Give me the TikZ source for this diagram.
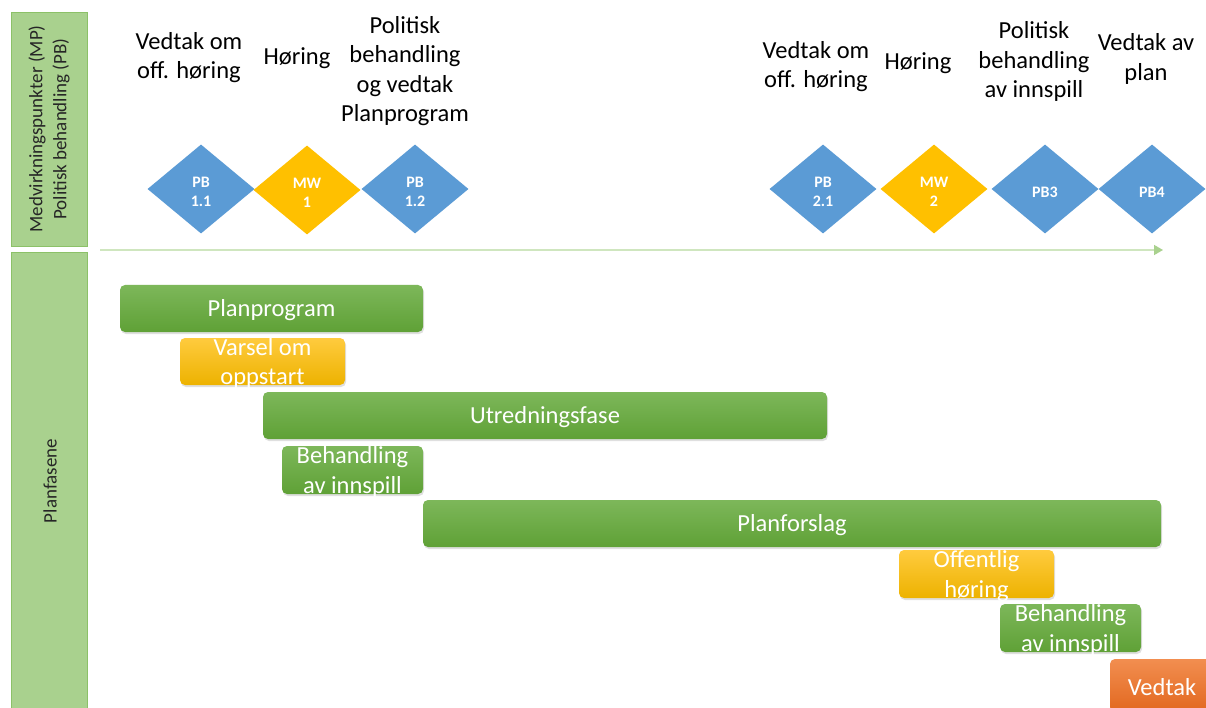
\documentclass[tikz,border=0pt]{standalone}
\usepackage{fontspec}
\setmainfont{Carlito}
\usetikzlibrary{shapes.geometric,arrows.meta,shadows}
\definecolor{hdrfill}{HTML}{A9D18E}
\definecolor{hdrdraw}{HTML}{8CC168}
\definecolor{axcol}{HTML}{CFE6BF}
\definecolor{axtip}{HTML}{A9D18E}
\definecolor{pbblue}{HTML}{5B9BD5}
\definecolor{mwgold}{HTML}{FFC000}
\definecolor{gtop}{HTML}{7DB75A}
\definecolor{gbot}{HTML}{5FA136}
\definecolor{ytop}{HTML}{FFCB3E}
\definecolor{ybot}{HTML}{EDB200}
\definecolor{otop}{HTML}{F28E50}
\definecolor{obot}{HTML}{E2681F}
\tikzset{
  hdr/.style={draw=hdrdraw, fill=hdrfill, line width=1pt},
  hdrtext/.style={rotate=90, align=center, font=\fontsize{19}{24}\selectfont, text=black!85},
  toplabel/.style={align=center, font=\fontsize{24.5}{29.5}\selectfont, text=black, inner sep=0pt},
  dia/.style={diamond, minimum width=107pt, minimum height=89pt, inner sep=0pt, draw=none},
  diatext/.style={text=white, align=center, inner sep=0pt, yshift=-3pt, font=\bfseries\fontsize{16}{19.5}\selectfont},
  pbdia/.style={dia, fill=pbblue},
  mwdia/.style={dia, fill=mwgold},
  barbox/.style={rectangle, rounded corners=5pt, inner sep=0pt, draw=none,
    drop shadow={opacity=0.25, shadow xshift=1pt, shadow yshift=-2pt}},
  gbar/.style={barbox, top color=gtop, bottom color=gbot},
  ybar/.style={barbox, top color=ytop, bottom color=ybot},
  obar/.style={barbox, top color=otop, bottom color=obot},
  bartext/.style={align=center, text=white, inner sep=0pt, yshift=-2pt, font=\fontsize{24.5}{29.5}\selectfont},
  axis/.style={draw=axcol, line width=1.5pt, -{Triangle[length=9pt,width=10pt,fill=axtip,color=axtip]}}
}
\begin{document}
\begin{tikzpicture}[x=1pt,y=-1pt]
\clip (0,0) rectangle (1206,708);
\fill[white] (0,0) rectangle (1206,708);
% header boxes
\draw[hdr] (11,13) rectangle (87,247);
\draw[hdr] (11,253) rectangle (87,716);
\node[hdrtext] (h1) at (49,129) {Medvirkningspunkter (MP)\\Politisk behandling (PB)};
\node[hdrtext] (h2) at (50,481) {Planfasene};
% axis
\coordinate (axs) at (100,250);
\coordinate (axe) at (1163,250);
\draw[axis] (axs) -- (axe);
% top labels
\node[toplabel] (t1) at (189,57.5) {Vedtak om\\off. høring};
\node[toplabel] (t2) at (297,58) {Høring};
\node[toplabel] (t3) at (405,71) {Politisk\\behandling\\og vedtak\\Planprogram};
\node[toplabel] (t4) at (816,66.5) {Vedtak om\\off. høring};
\node[toplabel] (t5) at (918,63.5) {Høring};
\node[toplabel] (t6) at (1034,61.5) {Politisk\\behandling\\av innspill};
\node[toplabel] (t7) at (1146,59) {Vedtak av\\plan};
% diamonds
\node[pbdia] (d1) at (201,189) {};
\node[diatext] at (d1) {PB\\1.1};
\node[mwdia] (d2) at (307,190) {};
\node[diatext] at (d2) {MW\\1};
\node[pbdia] (d3) at (415,189) {};
\node[diatext] at (d3) {PB\\1.2};
\node[pbdia] (d4) at (823,189) {};
\node[diatext] at (d4) {PB\\2.1};
\node[mwdia] (d5) at (934,189) {};
\node[diatext] at (d5) {MW\\2};
\node[pbdia] (d6) at (1045,189) {};
\node[diatext] at (d6) {PB3};
\node[pbdia] (d7) at (1152,189) {};
\node[diatext] at (d7) {PB4};
% bars
\node[gbar, minimum width=303pt, minimum height=47pt] (b1) at (271.5,308.5) {};
\node[bartext] at (b1) {Planprogram};
\node[ybar, minimum width=165pt, minimum height=47pt] (b2) at (262.5,361.5) {};
\node[bartext] at (b2) {Varsel om\\oppstart};
\node[gbar, minimum width=564pt, minimum height=47pt] (b3) at (545,415.5) {};
\node[bartext] at (b3) {Utredningsfase};
\node[gbar, minimum width=141pt, minimum height=48pt] (b4) at (352.5,470) {};
\node[bartext] at (b4) {Behandling\\av innspill};
\node[gbar, minimum width=738pt, minimum height=47pt] (b5) at (792,523.5) {};
\node[bartext] at (b5) {Planforslag};
\node[ybar, minimum width=155pt, minimum height=48pt] (b6) at (976.5,574) {};
\node[bartext] at (b6) {Offentlig\\høring};
\node[gbar, minimum width=141pt, minimum height=48pt] (b7) at (1070.5,628) {};
\node[bartext] at (b7) {Behandling\\av innspill};
\node[obar, minimum width=104pt, minimum height=53pt] (b8) at (1162,685.5) {};
\node[bartext] at (1162,685) {Vedtak};
\end{tikzpicture}
\end{document}
